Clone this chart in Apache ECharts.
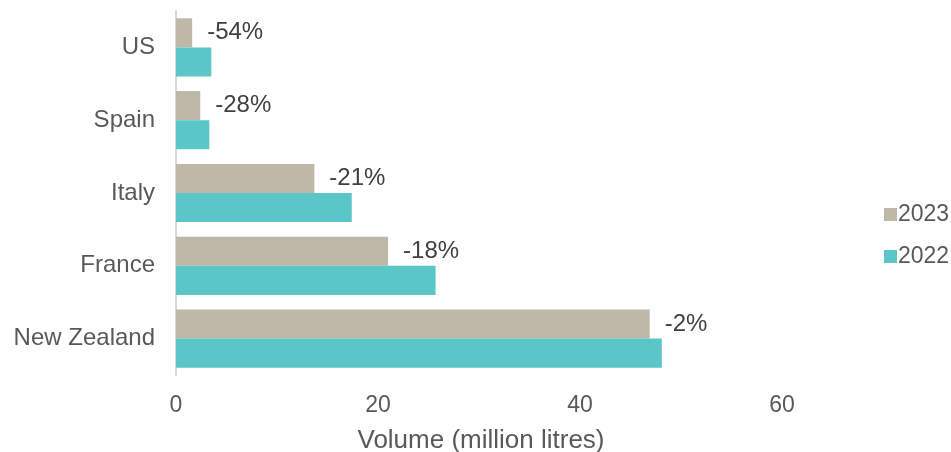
<!DOCTYPE html>
<html>
<head>
<meta charset="utf-8">
<script src="https://cdn.jsdelivr.net/npm/echarts@6/dist/echarts.min.js"></script>
<style>
  html, body { margin: 0; padding: 0; background: #fff; }
  #chart { width: 951px; height: 452px; }
</style>
</head>
<body>
<div id="chart"></div>
<script>
// Export volume by market, million litres (listed bottom to top)
const countries = ['New Zealand', 'France', 'Italy', 'Spain', 'US'];
const vol2023 = [46.9, 21.0, 13.7, 2.4, 1.6];
const vol2022 = [48.1, 25.7, 17.4, 3.3, 3.5];
const changeLabels = ['-2%', '-18%', '-21%', '-28%', '-54%'];
const xTicks = [0, 20, 40, 60];

const FONT = '"Liberation Sans", Arial, sans-serif';

const chart = echarts.init(document.getElementById('chart'));
chart.setOption({
  animation: false,
  textStyle: { fontFamily: FONT },
  grid: {
    left: 176, right: 68, top: 11, bottom: 77,
    containLabel: false,
    outerBoundsMode: 'none'
  },
  legend: {
    orient: 'vertical',
    left: 879,
    top: 198,
    itemWidth: 13,
    itemHeight: 13,
    itemGap: 19,
    icon: 'rect',
    data: ['2023', '2022'],
    textStyle: { fontSize: 23, color: '#595959', fontFamily: FONT, padding: [0, 0, 0, -4] }
  },
  xAxis: {
    type: 'value',
    min: 0,
    max: 70,
    interval: 20,
    name: 'Volume (million litres)',
    nameLocation: 'middle',
    nameGap: 53,
    nameTextStyle: { fontSize: 26, color: '#595959', fontFamily: FONT, padding: [0, 97, 0, 0] },
    axisLine: { show: false },
    axisTick: { show: false },
    splitLine: { show: false },
    axisLabel: {
      fontSize: 23,
      color: '#595959',
      margin: 19,
      formatter: v => (xTicks.includes(v) ? String(v) : '')
    }
  },
  yAxis: {
    type: 'category',
    data: countries,
    axisLine: { show: true, lineStyle: { color: '#d9d9d9', width: 2 } },
    axisTick: { show: false },
    axisLabel: { fontSize: 24, color: '#595959', margin: 21 }
  },
  series: [
    {
      name: '2023',
      type: 'bar',
      data: vol2023,
      barGap: '0%',
      barCategoryGap: '20%',
      itemStyle: { color: '#bfb7a7' },
      label: {
        show: true,
        position: 'right',
        distance: 15,
        fontSize: 24,
        color: '#404040',
        formatter: p => changeLabels[p.dataIndex]
      }
    },
    {
      name: '2022',
      type: 'bar',
      data: vol2022,
      barGap: '0%',
      barCategoryGap: '20%',
      itemStyle: { color: '#5bc6c7' }
    }
  ]
});
</script>
</body>
</html>
